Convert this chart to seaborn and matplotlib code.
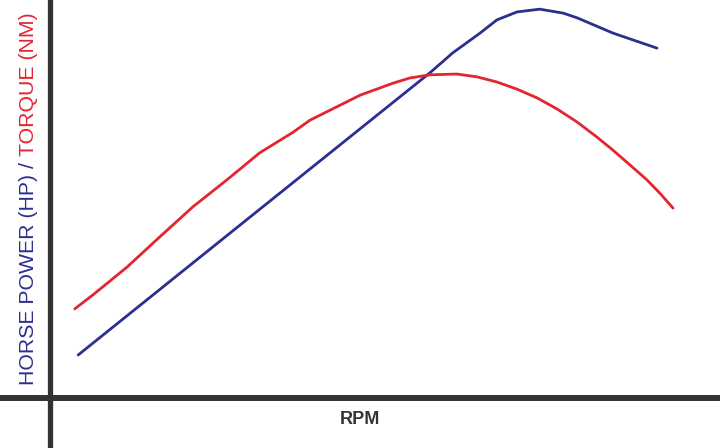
import pandas as pd
import matplotlib
matplotlib.use("Agg")
import matplotlib.pyplot as plt
import seaborn as sns

# rpm (thousands) / value readings
hp_rpm = [0.42, 3.04, 5.67, 6.01, 6.42, 6.67, 6.97, 7.31, 7.66, 7.87, 8.01, 8.40, 9.06]
hp_val = [10.8, 46.2, 81.7, 86.7, 91.7, 95.0, 97.0, 97.7, 96.7, 95.5, 94.5, 91.7, 87.9]

tq_rpm = [0.37, 0.64, 1.15, 1.64, 2.13, 2.64, 3.13, 3.63, 3.88, 4.13, 4.63, 5.12,
          5.37, 5.67, 6.07, 6.37, 6.67, 6.97, 7.27, 7.57, 7.87, 8.16, 8.40, 8.66,
          8.91, 9.10, 9.30]
tq_val = [22.4, 25.9, 32.9, 40.5, 48.0, 54.8, 61.6, 66.8, 69.8, 71.9, 76.1, 79.1,
          80.4, 81.2, 81.4, 80.7, 79.4, 77.6, 75.4, 72.6, 69.3, 65.6, 62.3, 58.5,
          54.8, 51.5, 47.7]

blue = "#2b2f8f"
red = "#e32530"

hp = pd.DataFrame({"rpm": hp_rpm, "value": hp_val})
tq = pd.DataFrame({"rpm": tq_rpm, "value": tq_val})

sns.set_style("white")
plt.rcParams["font.family"] = ["Liberation Sans", "DejaVu Sans"]

fig = plt.figure(figsize=(7.2, 4.48), dpi=100)
ax = fig.add_axes([0, 0, 1, 1])

sns.lineplot(data=hp, x="rpm", y="value", color=blue, lw=2.0, ax=ax, sort=False)
sns.lineplot(data=tq, x="rpm", y="value", color=red, lw=2.0, ax=ax, sort=False)
for ln in ax.lines:
    ln.set_solid_joinstyle("round")
    ln.set_solid_capstyle("round")

ax.set_xlim(-50 / 67, 670 / 67)
ax.set_ylim(-50 / 3.98, 100)
ax.axvline(0, color="#333333", lw=3.8)
ax.axhline(0, color="#333333", lw=4.3)
for s in ax.spines.values():
    s.set_visible(False)
ax.set_xticks([])
ax.set_yticks([])
ax.set_xlabel("")
ax.set_ylabel("")

fig.text(360 / 720, 1 - 419 / 448, "RPM", ha="center", va="center",
         fontsize=13, fontweight="bold", color="#333333")

# two-coloured y label
x_lab = 29 / 720
t1 = fig.text(x_lab, 1 - 385 / 448, "HORSE POWER (HP) / ", rotation=90,
              ha="center", va="bottom", fontsize=15.3, color=blue)
fig.canvas.draw()
bb = t1.get_window_extent(fig.canvas.get_renderer())
top = bb.y1 / fig.bbox.height
fig.text(x_lab, top, "TORQUE (NM)", rotation=90,
         ha="center", va="bottom", fontsize=15.3, color=red)

fig.savefig("out.png", dpi=100)
